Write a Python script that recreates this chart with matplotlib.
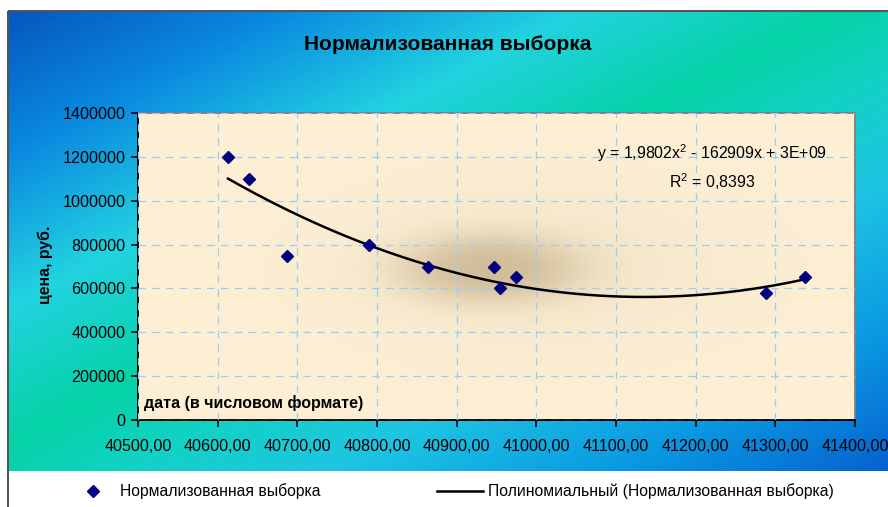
import numpy as np
import matplotlib
matplotlib.use("Agg")
import matplotlib.pyplot as plt
from matplotlib.colors import LinearSegmentedColormap, to_rgb
from matplotlib.patches import Rectangle
from matplotlib.ticker import FuncFormatter, MultipleLocator

# dates (Excel serial numbers) and prices
dates = [40613, 40639, 40687, 40790, 40864, 40947, 40954, 40974, 41288, 41337]
prices = [1200000, 1100000, 750000, 800000, 700000, 700000, 600000, 650000, 580000, 650000]

TITLE = "Нормализованная выборка"
YLABEL = "цена, руб."
XLABEL = "дата (в числовом формате)"
SERIES_NAME = "Нормализованная выборка"
TREND_NAME = "Полиномиальный (Нормализованная выборка)"
EQUATION = "y = 1,9802x$^2$ - 162909x + 3E+09"
R2_TEXT = "R$^2$ = 0,8393"

FONT = "Liberation Sans"
plt.rcParams["font.family"] = [FONT, "DejaVu Sans"]
plt.rcParams["mathtext.fontset"] = "custom"
plt.rcParams["mathtext.rm"] = FONT

W, H = 888, 507
fig = plt.figure(figsize=(W / 100, H / 100), dpi=100)
fig.patch.set_facecolor("white")

# background layer in pixel coordinates
bg = fig.add_axes([0, 0, 1, 1], zorder=-1)
bg.set_xlim(0, W)
bg.set_ylim(H, 0)
bg.axis("off")

stops = [(0.0, "#0558c0"), (0.15, "#0a88e0"), (0.32, "#22d3e0"), (0.47, "#05d2a6"),
         (0.56, "#12d2c4"), (0.68, "#1ec6e2"), (0.85, "#0a98e2"), (1.0, "#0662d0")]
cmap = LinearSegmentedColormap.from_list("frame", stops)
gx, gy = np.meshgrid(np.linspace(0, 1, 400), np.linspace(0, 1, 220))
bg.imshow((gx + gy) / 2, cmap=cmap, extent=[9, W, 471, 12], aspect="auto",
          interpolation="bilinear", vmin=0, vmax=1)
bg.add_patch(Rectangle((8, 11), W, H, fill=False, edgecolor="#333333", lw=1.2))

bg.text(448, 45, TITLE, ha="center", va="center", fontsize=15, fontweight="bold")
bg.text(45, 265, YLABEL, ha="center", va="center", rotation=90,
        fontsize=11.4, fontweight="bold")

# plot area
ax = fig.add_axes([138 / W, 1 - 420 / H, (855 - 138) / W, (420 - 113) / H])
ax.set_facecolor("#fcefd4")
ax.set_xlim(40500, 41400)
ax.set_ylim(0, 1400000)

# soft brown shading in the middle of the plot area
sx, sy = np.meshgrid(np.linspace(40500, 41400, 300), np.linspace(0, 1400000, 200))
d1 = ((sx - 40940) / 90) ** 2 + ((sy - 690000) / 125000) ** 2
d2 = ((sx - 41000) / 170) ** 2 + ((sy - 700000) / 260000) ** 2
alpha = 0.52 * np.exp(-0.5 * d1 ** 1.4) + 0.12 * np.exp(-0.5 * d2)
shade = np.zeros(sx.shape + (4,))
shade[..., :3] = to_rgb("#b8a078")
shade[..., 3] = np.clip(alpha, 0, 1)
ax.imshow(shade, extent=[40500, 41400, 0, 1400000], origin="lower", aspect="auto",
          interpolation="bilinear", zorder=0)

ax.xaxis.set_major_locator(MultipleLocator(100))
ax.yaxis.set_major_locator(MultipleLocator(200000))
ax.xaxis.set_major_formatter(FuncFormatter(lambda v, p: f"{v:.2f}".replace(".", ",")))
ax.yaxis.set_major_formatter(FuncFormatter(lambda v, p: f"{v:.0f}"))
ax.grid(True, color="#99ccff", linestyle=(0, (6, 5)), lw=0.9, zorder=1)
ax.set_axisbelow(False)
ax.tick_params(direction="out", length=5, width=1.2, colors="black",
               labelsize=11.6, pad=4)
ax.tick_params(axis="x", pad=9)
for side in ["left", "bottom"]:
    ax.spines[side].set_color("black")
    ax.spines[side].set_linewidth(1.4)
for side in ["top", "right"]:
    ax.spines[side].set_color("#808080")
    ax.spines[side].set_linewidth(1.4)

# 2nd order polynomial trend
coef = np.polyfit(dates, prices, 2)
tx = np.linspace(min(dates), max(dates), 200)
ax.plot(tx, np.polyval(coef, tx), color="black", lw=1.8, zorder=3)
ax.plot(dates, prices, "D", color="#000080", ms=6.5, zorder=4, clip_on=False)

ax.text(40508, 40000, XLABEL, fontsize=11.5, fontweight="bold", va="bottom", ha="left")
ax.text(41220, 1217000, EQUATION, ha="center", va="center", fontsize=11.4)
ax.text(41220, 1085000, R2_TEXT, ha="center", va="center", fontsize=11.4)

# legend row
bg.plot([93], [491], "D", color="#000080", ms=6.5)
bg.text(120, 491, SERIES_NAME, va="center", ha="left", fontsize=11.3)
bg.plot([437, 483], [491, 491], color="black", lw=1.8)
bg.text(488, 491, TREND_NAME, va="center", ha="left", fontsize=11.3)

fig.savefig("out.png", dpi=100)
